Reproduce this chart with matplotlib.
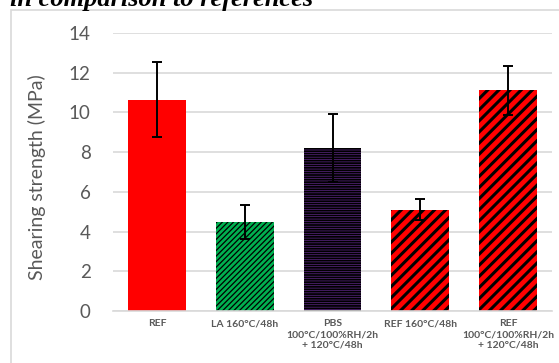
import matplotlib
matplotlib.use('Agg')
import matplotlib.pyplot as plt
from matplotlib.patches import Rectangle
import numpy as np

# data
categories = ["REF", "LA 160°C/48h", "PBS\n100°C/100%RH/2h\n+ 120°C/48h",
              "REF 160°C/48h", "REF\n100°C/100%RH/2h\n+ 120°C/48h"]
strength = [10.65, 4.48, 8.20, 5.09, 11.11]
err = [1.87, 0.84, 1.70, 0.53, 1.23]
yticks = [0, 2, 4, 6, 8, 10, 12, 14]

colors = ["#ff0000", "#00b050", "#7030a0", "#ff0000", "#ff0000"]
hatches = [None, "//////", "-------", "///", "///"]
hatch_lw = [1.0, 0.9, 1.3, 2.2, 2.2]

grey = "#595959"
W, H = 559, 363

fig = plt.figure(figsize=(W / 100, H / 100), dpi=100)
ax = fig.add_axes([113 / W, 1 - 311 / H, (552 - 113) / W, (311 - 33) / H])

x = np.arange(len(categories))
for i in range(len(categories)):
    with plt.rc_context({'hatch.linewidth': hatch_lw[i]}):
        ax.bar(x[i], strength[i], width=0.66, color=colors[i],
               edgecolor='black', linewidth=0, hatch=hatches[i], zorder=2)
ax.errorbar(x, strength, yerr=err, fmt='none', ecolor='black',
            elinewidth=1.4, capsize=3.5, capthick=1.4, zorder=3)

ax.set_xlim(-0.5, 4.5)
ax.set_ylim(0, 14)
ax.set_yticks(yticks)
ax.set_xticks(x)
ax.set_xticklabels(categories, fontsize=7.5, fontweight='bold', color=grey,
                   family='Lato', linespacing=1.25)
ax.tick_params(axis='y', length=0, pad=16, labelsize=13.5, labelcolor=grey)
ax.tick_params(axis='x', length=0, pad=6)
for lab in ax.get_yticklabels():
    lab.set_family('Lato')
ax.grid(axis='y', color='#d9d9d9', lw=1.2, zorder=0)
ax.set_axisbelow(True)
for s in ['left', 'right', 'top']:
    ax.spines[s].set_visible(False)
ax.spines['bottom'].set_color('#d9d9d9')
ax.spines['bottom'].set_linewidth(1.2)

ax.set_ylabel("Shearing strength (MPa)", fontsize=14, color=grey, family='Lato')
ax.yaxis.set_label_coords(-0.153, 0.48)

# chart frame (cut off by image edges)
fig.add_artist(Rectangle((11 / W, -0.1), 1.2, 1 - 10 / H + 0.1,
                         transform=fig.transFigure, fill=False,
                         edgecolor='#d9d9d9', lw=1.2))

# caption text cropped at the top, like in the reference
fig.text(10 / W, 1 - 6 / H, "in comparison to references", fontsize=19,
         fontweight='bold', style='italic', family='Liberation Serif',
         va='baseline', ha='left')

fig.savefig("out.png", dpi=100)
